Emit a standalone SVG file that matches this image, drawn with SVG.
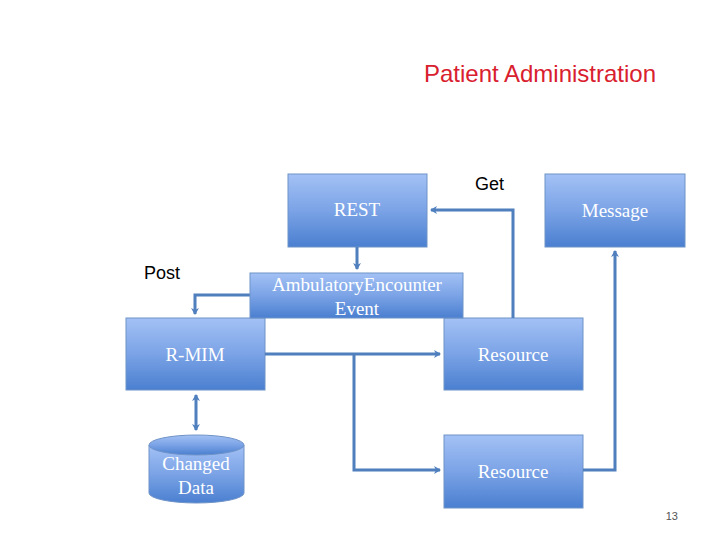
<svg xmlns="http://www.w3.org/2000/svg" width="720" height="540" viewBox="0 0 720 540">
<defs>
<linearGradient id="g" x1="0" y1="0" x2="0" y2="1"><stop offset="0" stop-color="#a3c1f5"/><stop offset="0.5" stop-color="#7ba3e6"/><stop offset="1" stop-color="#4a7fd0"/></linearGradient>
<marker id="a" markerWidth="8" markerHeight="8" refX="6" refY="4" orient="auto-start-reverse" markerUnits="userSpaceOnUse"><path d="M0,0 L7,4 L0,8 L2,4 Z" fill="#4f7fbd"/></marker>
<style>
.b{fill:url(#g);stroke:#6f93c8;stroke-width:1}
.t{font-family:"Liberation Serif",serif;font-size:19px;fill:#fff;text-anchor:middle}
.l{font-family:"Liberation Sans",sans-serif;font-size:18px;fill:#000}
.c{fill:none;stroke:#4f7fbd;stroke-width:3}
</style>
</defs>
<rect width="720" height="540" fill="#fff"/>
<text x="540" y="82" font-family="Liberation Sans,sans-serif" font-size="24" fill="#d9202e" text-anchor="middle">Patient Administration</text>
<text class="l" x="475" y="190">Get</text>
<text class="l" x="144" y="279">Post</text>
<g id="rest"><rect class="b" x="288" y="174" width="139" height="73"/><text class="t" x="357" y="216">REST</text></g>
<g id="message"><rect class="b" x="545" y="174" width="140" height="73"/><text class="t" x="615" y="217">Message</text></g>
<g id="rmim"><rect class="b" x="126" y="318" width="139" height="72"/><text class="t" x="195" y="361">R-MIM</text></g>
<g id="resource1"><rect class="b" x="444" y="318" width="139" height="72"/><text class="t" x="513" y="361">Resource</text></g>
<g id="resource2"><rect class="b" x="444" y="435" width="139" height="73"/><text class="t" x="513" y="478">Resource</text></g>
<g id="changed"><path class="b" d="M149,445 L149,493 A47.5,10 0 0 0 244,493 L244,445"/><ellipse class="b" cx="196.5" cy="445" rx="47.5" ry="10"/><text class="t" x="196" y="470">Changed</text><text class="t" x="196" y="494">Data</text></g>
<g id="connectors">
<path class="c" d="M357,247 V269" marker-end="url(#a)"/>
<path class="c" d="M250,295 H195 V314" marker-end="url(#a)"/>
<path class="c" d="M513,318 V210 H431" marker-end="url(#a)"/>
<path class="c" d="M265,354 H440" marker-end="url(#a)"/>
<path class="c" d="M354,354 V470 H440" marker-end="url(#a)"/>
<path class="c" d="M583,470 H615 V251" marker-end="url(#a)"/>
<path class="c" d="M196,395 V430" marker-start="url(#a)" marker-end="url(#a)"/>
</g>
<g id="amb"><rect class="b" x="250" y="273" width="213" height="45"/><text class="t" x="357" y="291">AmbulatoryEncounter</text><text class="t" x="357" y="315">Event</text></g>
<text x="678" y="520" font-family="Liberation Sans,sans-serif" font-size="11" fill="#555" text-anchor="end">13</text>
</svg>
